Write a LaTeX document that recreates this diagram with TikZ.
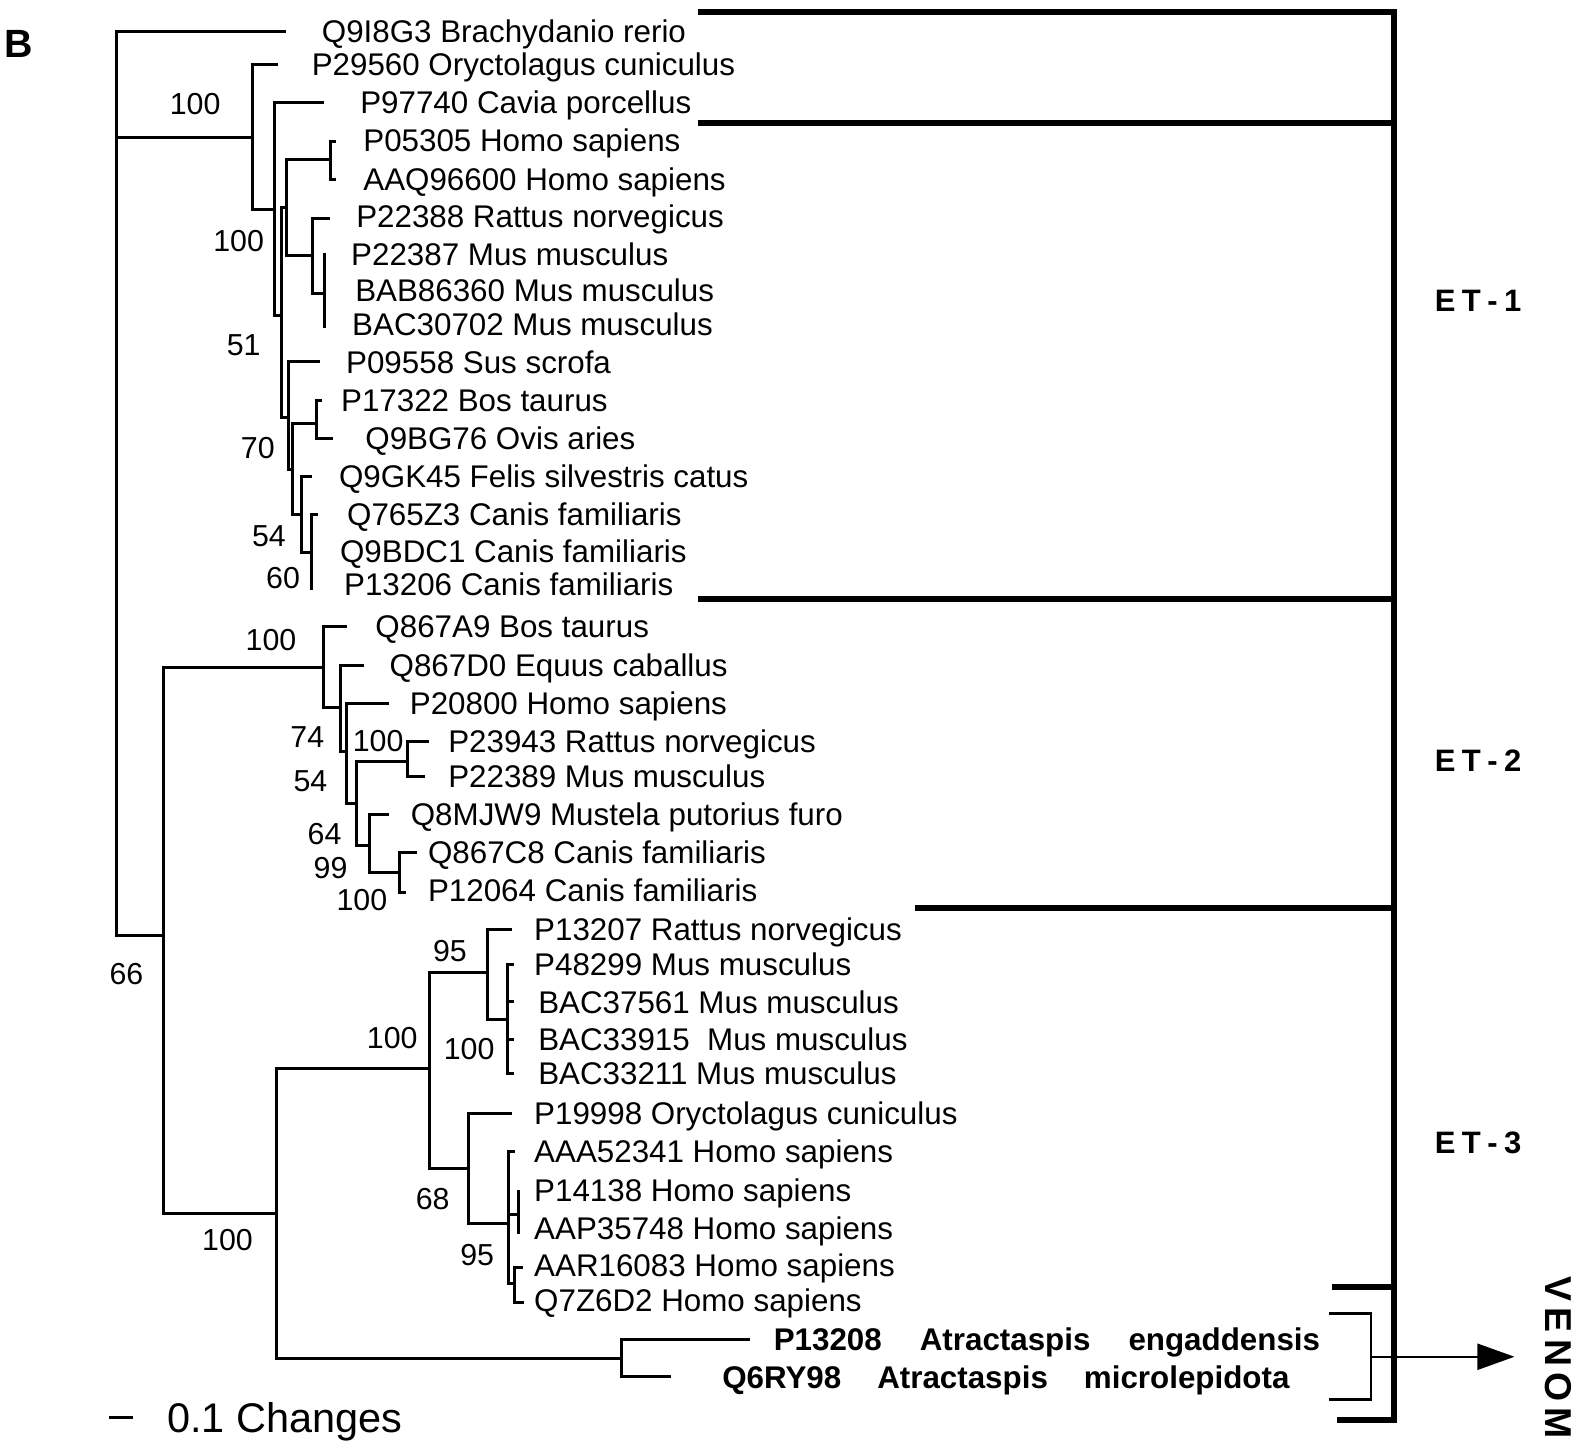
\documentclass[tikz,border=0pt]{standalone}
\usepackage{fontspec}
\setmainfont{Liberation Sans}
\usetikzlibrary{arrows.meta}
\begin{document}
\begin{tikzpicture}[x=0.5055pt,y=-0.5055pt,
  br/.style={line width=1.5pt, line join=miter, line cap=rect},
  lab/.style={anchor=base west, inner sep=0pt, font=\fontsize{15.67}{18}\selectfont},
  blab/.style={anchor=base west, inner sep=0pt, font=\bfseries\fontsize{15.67}{18}\selectfont},
  bs/.style={inner sep=0pt, font=\fontsize{15.17}{18}\selectfont},
  clbar/.style={line width=3pt, line join=miter},
  etlab/.style={inner sep=0pt, font=\bfseries\fontsize{15.5}{18}\selectfont},
]
\useasboundingbox (0pt,0pt) rectangle (792pt,-722.5pt);
\fill[white] (0pt,0pt) rectangle (792pt,-722.5pt);

% ---------- panel letter
\node[inner sep=0pt, font=\bfseries\fontsize{19.7}{22}\selectfont] (panel) at (19,43) {B};

% ---------- tips
\coordinate (t1) at (281,31);
\coordinate (t2) at (273,64);
\coordinate (t3) at (319,101);
\coordinate (t4) at (331,140);
\coordinate (t5) at (331,178);
\coordinate (t6) at (325,216);
\coordinate (t7) at (321,252);
\coordinate (t8) at (321,287);
\coordinate (t9) at (321,323);
\coordinate (t10) at (315,358);
\coordinate (t11) at (317,396);
\coordinate (t12) at (328,434);
\coordinate (t13) at (307,471);
\coordinate (t14) at (313,509);
\coordinate (t15) at (308,545);
\coordinate (t16) at (308,582);
\coordinate (t17) at (342,620);
\coordinate (t18) at (359,658);
\coordinate (t19) at (383,696);
\coordinate (t20) at (423,733);
\coordinate (t21) at (419,768);
\coordinate (t22) at (383,806);
\coordinate (t23) at (411,843);
\coordinate (t24) at (400,883);
\coordinate (t25) at (505,919);
\coordinate (t26) at (507,954);
\coordinate (t27) at (507,991);
\coordinate (t28) at (507,1028);
\coordinate (t29) at (507,1062);
\coordinate (t30) at (505,1101);
\coordinate (t31) at (508,1139);
\coordinate (t32) at (513,1179);
\coordinate (t33) at (513,1219);
\coordinate (t34) at (516,1254);
\coordinate (t35) at (517,1288);
\coordinate (t36) at (740,1325);
\coordinate (t37) at (662,1362);

% ---------- labels
\node[lab] (l1) at (318,42) {Q9I8G3 Brachydanio rerio};
\node[lab] (l2) at (308,75) {P29560 Oryctolagus cuniculus};
\node[lab] (l3) at (356,112) {P97740 Cavia porcellus};
\node[lab] (l4) at (359,150) {P05305 Homo sapiens};
\node[lab] (l5) at (359,188) {AAQ96600 Homo sapiens};
\node[lab] (l6) at (352,225) {P22388 Rattus norvegicus};
\node[lab] (l7) at (347,263) {P22387 Mus musculus};
\node[lab] (l8) at (351,298) {BAB86360 Mus musculus};
\node[lab] (l9) at (348,332) {BAC30702 Mus musculus};
\node[lab] (l10) at (342,369) {P09558 Sus scrofa};
\node[lab] (l11) at (337,407) {P17322 Bos taurus};
\node[lab] (l12) at (361,445) {Q9BG76 Ovis aries};
\node[lab] (l13) at (335,482) {Q9GK45 Felis silvestris catus};
\node[lab] (l14) at (343,520) {Q765Z3 Canis familiaris};
\node[lab] (l15) at (336,556) {Q9BDC1 Canis familiaris};
\node[lab] (l16) at (340,589) {P13206 Canis familiaris};
\node[lab] (l17) at (371,631) {Q867A9 Bos taurus};
\node[lab] (l18) at (385,669) {Q867D0 Equus caballus};
\node[lab] (l19) at (405,707) {P20800 Homo sapiens};
\node[lab] (l20) at (443,744) {P23943 Rattus norvegicus};
\node[lab] (l21) at (443,779) {P22389 Mus musculus};
\node[lab] (l22) at (406,817) {Q8MJW9 Mustela putorius furo};
\node[lab] (l23) at (423,854) {Q867C8 Canis familiaris};
\node[lab] (l24) at (423,892) {P12064 Canis familiaris};
\node[lab] (l25) at (528,930) {P13207 Rattus norvegicus};
\node[lab] (l26) at (528,965) {P48299 Mus musculus};
\node[lab] (l27) at (532,1002) {BAC37561 Mus musculus};
\node[lab] (l28) at (532,1039) {BAC33915\ \ Mus musculus};
\node[lab] (l29) at (532,1073) {BAC33211 Mus musculus};
\node[lab] (l30) at (528,1112) {P19998 Oryctolagus cuniculus};
\node[lab] (l31) at (528,1150) {AAA52341 Homo sapiens};
\node[lab] (l32) at (528,1188) {P14138 Homo sapiens};
\node[lab] (l33) at (528,1226) {AAP35748 Homo sapiens};
\node[lab] (l34) at (528,1263) {AAR16083 Homo sapiens};
\node[lab] (l35) at (528,1297) {Q7Z6D2 Homo sapiens};
\node[blab] (l36) at (765,1336) {P13208\hspace{19pt}Atractaspis\hspace{19pt}engaddensis};
\node[blab] (l37) at (714,1373) {Q6RY98\hspace{18pt}Atractaspis\hspace{18pt}microlepidota};

% ---------- internal nodes
\coordinate (R) at (115,31);
\coordinate (A) at (250,136);
\coordinate (B) at (272,207);
\coordinate (N1) at (278,312);
\coordinate (C) at (283,205);
\coordinate (H1) at (327,158);
\coordinate (D) at (309,253);
\coordinate (E) at (321,290);
\coordinate (F) at (285,413);
\coordinate (F2) at (289,464);
\coordinate (BS) at (313,419);
\coordinate (G) at (298,509);
\coordinate (Ca) at (308,546);
\coordinate (M) at (162,925);
\coordinate (K) at (320,660);
\coordinate (L) at (337,700);
\coordinate (L2) at (343,743);
\coordinate (N) at (353,795);
\coordinate (RM) at (403,753);
\coordinate (O) at (365,836);
\coordinate (CC) at (395,863);
\coordinate (P) at (273,1200);
\coordinate (Q) at (425,1057);
\coordinate (R3) at (482,962);
\coordinate (S) at (502,1008);
\coordinate (T) at (463,1156);
\coordinate (U) at (503,1210);
\coordinate (V) at (513,1201);
\coordinate (W) at (509,1270);
\coordinate (At) at (615,1344);

% ---------- branches
\foreach \c/\p in {t1/R, A/R, M/R,
  t2/A, B/A, t3/B, N1/B, C/N1, F/N1, H1/C, D/C, t4/H1, t5/H1,
  t6/D, E/D, t7/E, t8/E, t9/E, t10/F, F2/F, BS/F2, G/F2, t11/BS, t12/BS,
  t13/G, Ca/G, t14/Ca, t15/Ca, t16/Ca,
  K/M, P/M, t17/K, L/K, t18/L, L2/L, t19/L2, N/L2, RM/N, O/N, t20/RM, t21/RM,
  t22/O, CC/O, t23/CC, t24/CC,
  Q/P, At/P, R3/Q, T/Q, t25/R3, S/R3, t26/S, t27/S, t28/S, t29/S,
  t30/T, U/T, t31/U, V/U, W/U, t32/V, t33/V, t34/W, t35/W, t36/At, t37/At}
  \draw[br] (\c) -| (\p);

% ---------- bootstrap values
\node[bs] (b1) at (193,103) {100};
\node[bs] (b2) at (236,238) {100};
\node[bs] (b3) at (241,341) {51};
\node[bs] (b4) at (255,443) {70};
\node[bs] (b5) at (266,530) {54};
\node[bs] (b6) at (280,572) {60};
\node[bs] (b7) at (268,633) {100};
\node[bs] (b8) at (304,729) {74};
\node[bs] (b9) at (374,733) {100};
\node[bs] (b10) at (307,773) {54};
\node[bs] (b11) at (321,825) {64};
\node[bs] (b12) at (327,859) {99};
\node[bs] (b13) at (358,890) {100};
\node[bs] (b14) at (125,963) {66};
\node[bs] (b15) at (445,941) {95};
\node[bs] (b16) at (388,1027) {100};
\node[bs] (b17) at (464,1038) {100};
\node[bs] (b18) at (428,1186) {68};
\node[bs] (b19) at (472,1241) {95};
\node[bs] (b20) at (225,1227) {100};

% ---------- scale bar
\coordinate (sb1) at (108,1402);
\coordinate (sb2) at (132,1402);
\draw[line width=1.5pt] (sb1) -- (sb2);
\node[anchor=base west, inner sep=0pt, font=\fontsize{20.73}{24}\selectfont] (scale) at (165,1417) {0.1 Changes};

% ---------- group bars
\coordinate (g0l) at (690,12);
\coordinate (g0r) at (1379,12);
\coordinate (gbr) at (1379,1405);
\coordinate (gbl) at (1322,1405);
\coordinate (g1l) at (690,122);
\coordinate (g1r) at (1379,122);
\coordinate (g2l) at (690,592);
\coordinate (g2r) at (1379,592);
\coordinate (g3l) at (905,898);
\coordinate (g3r) at (1379,898);
\coordinate (g4l) at (1318,1273);
\coordinate (g4r) at (1379,1273);
\draw[clbar] (g0l) -- (g0r) -- (gbr) -- (gbl);
\draw[clbar] (g1l) -- (g1r);
\draw[clbar] (g2l) -- (g2r);
\draw[clbar] (g3l) -- (g3r);
\draw[clbar] (g4l) -- (g4r);

\node[etlab] (et1) at (1462,298) {E\kern3.2pt T\kern3.2pt -\kern3.2pt 1};
\node[etlab] (et2) at (1462,752) {E\kern3.2pt T\kern3.2pt -\kern3.2pt 2};
\node[etlab] (et3) at (1462,1130) {E\kern3.2pt T\kern3.2pt -\kern3.2pt 3};

% ---------- venom bracket and arrow
\coordinate (vb1) at (1315,1299);
\coordinate (vb2) at (1356,1299);
\coordinate (vb3) at (1356,1384);
\coordinate (vb4) at (1315,1384);
\coordinate (vmid) at (1356,1342);
\coordinate (vtip) at (1498,1342);
\draw[line width=1.3pt, line join=miter] (vb1) -- (vb2) -- (vb3) -- (vb4);
\draw[line width=1pt, -{Triangle[length=18.5pt,width=13pt]}] (vmid) -- (vtip);
\node[rotate=-90, inner sep=0pt, font=\bfseries\fontsize{18.7}{20}\selectfont] (venom) at (1541,1343) {V\kern3.2pt E\kern3.2pt N\kern3.2pt O\kern3.2pt M};
\end{tikzpicture}
\end{document}
